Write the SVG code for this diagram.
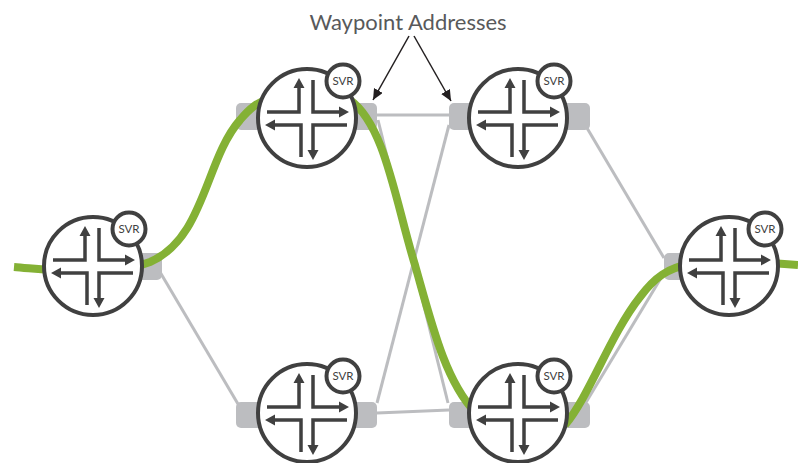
<svg xmlns="http://www.w3.org/2000/svg" width="798" height="463" viewBox="0 0 798 463">
<style>
.pad{fill:#bcbdc0}
.link{fill:none;stroke:#bcbdc0;stroke-width:3}
.path{fill:none;stroke:#84b135;stroke-width:8}
.body{fill:#fff;stroke:#404040;stroke-width:4}
.glyph{fill:none;stroke:#404040;stroke-width:3.5}
.head{fill:#404040}
.svr{font:11.5px Lato,"Liberation Sans",sans-serif;fill:#404040;text-anchor:middle}
.callout{fill:none;stroke:#231f20;stroke-width:1.5}
.title{font:22px Lato,"Liberation Sans",sans-serif;fill:#58595b;text-anchor:middle}
</style>
<defs>
<marker id="tip" markerUnits="userSpaceOnUse" markerWidth="12" markerHeight="12" refX="11" refY="5" orient="auto"><path d="M0 0L11 5L0 10Z" fill="#231f20"/></marker>
<g id="router">
<circle class="body" r="49"/>
<path class="glyph" d="M-40-6H-8V-31M6-38V-6H33M40 7H6V32M-33 7H-6V39"/>
<path class="head" d="M-8-40L-13.500-30H-2.500ZM42-6L32-11.500V-0.500ZM6 42L0.500 32H11.500ZM-42 7L-32 1.500V12.500Z"/>
<circle class="body" cx="36" cy="-37" r="16.5"/>
<text class="svr" x="36" y="-33">SVR</text>
</g>
</defs>
<g id="pads">
<rect class="pad" x="93" y="253" width="69" height="27" rx="5"/>
<rect class="pad" x="236" y="103" width="141" height="27" rx="5"/>
<rect class="pad" x="449" y="103" width="141" height="27" rx="5"/>
<rect class="pad" x="236" y="402" width="141" height="26" rx="5"/>
<rect class="pad" x="449" y="402" width="141" height="26" rx="5"/>
<rect class="pad" x="664" y="253" width="60" height="27" rx="5"/>
</g>
<g id="connectors">
<path class="link" d="M160 272L238 404"/>
<path class="link" d="M377 115H449"/>
<path class="link" d="M377 413L449 410"/>
<path class="link" d="M378 120L448 403"/>
<path class="link" d="M377 403L449 125"/>
<path class="link" d="M587 128L664 258"/>
<path class="link" d="M585 404L664 273"/>
<path class="path" d="M14 267C60 271 110 278 150 262C205 238 205 160 240 120C250 108 258 102 270 98"/>
<path class="path" d="M350 100C385 125 395 200 415 265C432 325 445 380 475 412"/>
<path class="path" d="M565 425C590 395 610 335 640 297C655 277 668 268 690 264"/>
<path class="path" d="M770 263Q785 264 798 265"/>
<path class="callout" d="M409 36L373 100" marker-end="url(#tip)"/>
<path class="callout" d="M414 36L451 101" marker-end="url(#tip)"/>
</g>
<g id="r-left"><use href="#router" x="93" y="266"/></g>
<g id="r-top-a"><use href="#router" x="307" y="118"/></g>
<g id="r-top-b"><use href="#router" x="518" y="118"/></g>
<g id="r-bot-a"><use href="#router" x="307" y="413"/></g>
<g id="r-bot-b"><use href="#router" x="518" y="413"/></g>
<g id="r-right"><use href="#router" x="729" y="266"/></g>
<text class="title" x="408" y="30">Waypoint Addresses</text>
</svg>
